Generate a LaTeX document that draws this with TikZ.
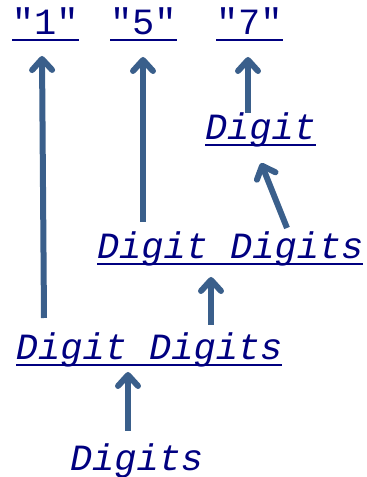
\documentclass[tikz,border=0pt]{standalone}
\usepackage{fontspec}
\newfontfamily\courfont{Liberation Mono}
\usetikzlibrary{arrows.meta}
\definecolor{txtnavy}{HTML}{000080}
\definecolor{arrblue}{HTML}{3A5F8B}
\tikzset{
  lbl/.style={inner sep=0pt, outer sep=0pt, anchor=base west, text=txtnavy,
    font=\courfont\itshape\fontsize{37}{40}\selectfont},
  term/.style={lbl, font=\courfont\upshape\fontsize{37}{40}\selectfont},
  uline/.style={draw=txtnavy, line width=2pt},
  arr/.style={draw=arrblue, line width=6pt,
    -{Straight Barb[length=11pt,width=20pt,round]}},
}
\begin{document}
\begin{tikzpicture}[x=1pt,y=1pt]
\useasboundingbox (0,0) rectangle (367,477);
\node[term] (q1) at (12,442) {"1"};
\node[term] (q5) at (110,442) {"5"};
\node[term] (q7) at (216,442) {"7"};
\node[lbl] (d1) at (205,337) {Digit};
\node[lbl] (d2) at (97,218) {Digit Digits};
\node[lbl] (d3) at (16,117) {Digit Digits};
\node[lbl] (d4) at (70,6) {Digits};
\foreach \n in {q1,q5,q7,d1,d2,d3}{
  \draw[uline] ([yshift=-5pt]\n.base west) -- ([yshift=-5pt]\n.base east);
}
\draw[arr] ([shift={(28,42)}]d3.base west) -- ([shift={(30,-21)}]q1.base west);
\draw[arr] ([shift={(46,37)}]d2.base west) -- ([shift={(33,-22)}]q5.base west);
\draw[arr] ([shift={(43,27)}]d1.base west) -- ([shift={(32,-22)}]q7.base west);
\draw[arr] ([shift={(190,31)}]d2.base west) -- ([shift={(56,-23)}]d1.base west);
\draw[arr] ([shift={(195,35)}]d3.base west) -- ([shift={(114,-18)}]d2.base west);
\draw[arr] ([shift={(58,40)}]d4.base west) -- ([shift={(112,-12)}]d3.base west);
\end{tikzpicture}
\end{document}
